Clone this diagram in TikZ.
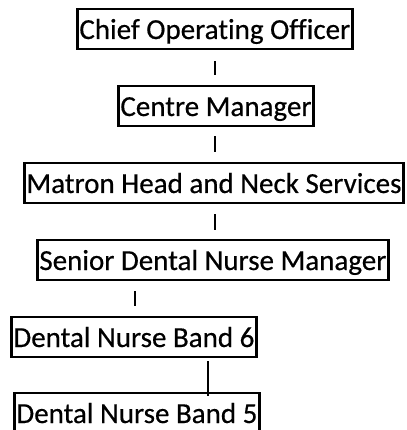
\documentclass[tikz,border=0pt]{standalone}
\usepackage{fontspec}
\setmainfont[Ligatures=CommonOff]{Carlito}
\newfontfamily\boxfont[Ligatures=CommonOff,FakeBold=0.5]{Carlito}
\begin{document}
\begin{tikzpicture}[x=1pt,y=-1pt,
  box/.style={draw, line width=2.8pt, inner xsep=2pt, inner ysep=0pt,
    text height=30pt, text depth=10pt, anchor=base west,
    font=\boxfont\fontsize{29}{29}\selectfont},
  pipe/.style={line width=2.5pt},
  link/.style={line width=1.6pt}]
\useasboundingbox (0,0) rectangle (406,430);
\clip (0,0) rectangle (406,430);
\node[box] (n1) at (76,39) {Chief Operating Officer};
\node[box] (n2) at (117,116) {Centre Manager};
\node[box] (n3) at (23,193) {Matron Head and Neck Services};
\node[box] (n4) at (36,270) {Senior Dental Nurse Manager};
\node[box] (n5) at (10,347) {Dental Nurse Band 6};
\node[box] (n6) at (13,423) {Dental Nurse Band 5};
\coordinate (pa) at (215,0);
\coordinate (pb) at (135,0);
\coordinate (pc) at (208,0);
\draw[pipe, shorten <=11pt, shorten >=10pt] (n1.south -| pa) -- (n2.north -| pa);
\draw[pipe, shorten <=9pt, shorten >=10pt] (n2.south -| pa) -- (n3.north -| pa);
\draw[pipe, shorten <=10pt, shorten >=9pt] (n3.south -| pa) -- (n4.north -| pa);
\draw[pipe, shorten <=10pt, shorten >=10pt] (n4.south -| pb) -- (n5.north -| pb);
\draw[link, shorten <=3pt, shorten >=-4pt] (n5.south -| pc) -- (n6.north -| pc);
\end{tikzpicture}
\end{document}
